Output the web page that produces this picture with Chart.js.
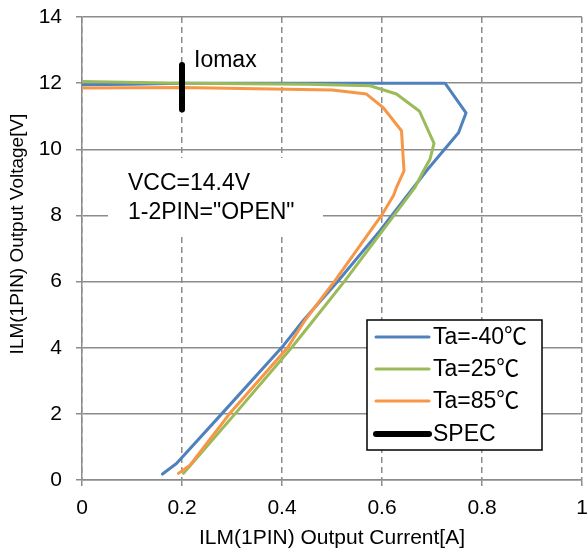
<!DOCTYPE html>
<html>
<head>
<meta charset="utf-8">
<script src="https://cdn.jsdelivr.net/npm/chart.js@4.4.0/dist/chart.umd.min.js"></script>
<style>
  html, body { margin: 0; padding: 0; background: #fff; }
</style>
</head>
<body>
<canvas id="chart" width="588" height="556"></canvas>
<script>
// Chart values
const xTickLabels = ['0', '0.2', '0.4', '0.6', '0.8', '1'];
const yTickLabels = ['0', '2', '4', '6', '8', '10', '12', '14'];

const seriesNames = ['Ta=-40℃', 'Ta=25℃', 'Ta=85℃', 'SPEC'];
const seriesColors = ['#4F81BD', '#9BBB59', '#F79646', '#000000'];

const m40Current = [0, 0.1, 0.2, 0.4, 0.6, 0.726, 0.768, 0.753, 0.689, 0.596, 0.513, 0.443, 0.403, 0.283, 0.189, 0.161];
const m40Voltage = [11.95, 11.97, 12.0, 12.0, 12.0, 12.0, 11.1, 10.5, 9.35, 7.54, 6.03, 4.83, 4.07, 2.06, 0.5, 0.18];

const t25Current = [0, 0.2, 0.45, 0.576, 0.629, 0.675, 0.704, 0.696, 0.683, 0.666, 0.609, 0.526, 0.463, 0.419, 0.306, 0.22, 0.203];
const t25Voltage = [12.05, 12.0, 11.97, 11.92, 11.67, 11.15, 10.18, 9.7, 9.35, 8.85, 7.7, 6.03, 4.83, 4.0, 2.0, 0.5, 0.2];

const t85Current = [0, 0.2, 0.5, 0.569, 0.603, 0.639, 0.644, 0.629, 0.623, 0.599, 0.506, 0.446, 0.411, 0.295, 0.216, 0.193];
const t85Voltage = [11.85, 11.87, 11.79, 11.67, 11.25, 10.56, 9.35, 8.85, 8.6, 8.0, 6.03, 4.83, 4.0, 2.0, 0.45, 0.2];

const specCurrent = [0.2, 0.2];
const specVoltage = [11.2, 12.55];

const notes = ['VCC=14.4V', '1-2PIN="OPEN"'];
const yTitle = 'ILM(1PIN) Output Voltage[V]';

const FONT = '"Liberation Sans", Arial, "Noto Sans CJK JP", sans-serif';
const GRID = '#8c8c8c';

const toPoints = (xs, ys) => xs.map((x, i) => ({ x: x, y: ys[i] }));

const makeSet = (i, xs, ys, width, order) => ({
  label: seriesNames[i],
  data: toPoints(xs, ys),
  borderColor: seriesColors[i],
  backgroundColor: seriesColors[i],
  borderWidth: width,
  borderCapStyle: 'round',
  borderJoinStyle: 'round',
  showLine: true,
  pointRadius: 0,
  tension: 0,
  order: order
});

// Text box, Iomax label, y title and the legend box drawn on the canvas
const overlayPlugin = {
  id: 'overlay',
  beforeDatasetsDraw(chart) {
    const ctx = chart.ctx;
    ctx.save();
    ctx.fillStyle = '#fff';
    ctx.fillRect(108, 158, 215, 77);
    ctx.fillStyle = '#000';
    ctx.font = '23px ' + FONT;
    ctx.textAlign = 'left';
    ctx.textBaseline = 'middle';
    ctx.fillText(notes[0], 128, 184);
    ctx.fillText(notes[1], 128, 213);
    ctx.fillText('Iomax', 194, 61);

    // y axis title, sits a little above the middle of the plot
    ctx.translate(18, 234);
    ctx.rotate(-Math.PI / 2);
    ctx.font = '19px ' + FONT;
    ctx.textAlign = 'center';
    ctx.fillText(yTitle, 0, 0);
    ctx.restore();
  },
  afterDatasetsDraw(chart) {
    const ctx = chart.ctx;
    ctx.save();
    ctx.fillStyle = '#fff';
    ctx.fillRect(367, 320, 175, 130);
    ctx.strokeStyle = '#000';
    ctx.lineWidth = 1.5;
    ctx.strokeRect(367, 320, 175, 130);
    ctx.font = '23px ' + FONT;
    ctx.textAlign = 'left';
    ctx.textBaseline = 'middle';
    const rows = [337, 369, 401, 434];
    chart.data.datasets.forEach((ds, i) => {
      ctx.strokeStyle = ds.borderColor;
      ctx.lineWidth = i === 3 ? 6 : 3;
      ctx.lineCap = 'round';
      ctx.beginPath();
      ctx.moveTo(376, rows[i]);
      ctx.lineTo(429, rows[i]);
      ctx.stroke();
      ctx.fillStyle = '#000';
      ctx.fillText(ds.label, 433, rows[i] + 1);
    });
    ctx.restore();
  }
};

Chart.defaults.font.family = FONT;
Chart.defaults.color = '#000';

new Chart(document.getElementById('chart'), {
  type: 'scatter',
  data: {
    datasets: [
      makeSet(0, m40Current, m40Voltage, 3, 4),
      makeSet(1, t25Current, t25Voltage, 3, 3),
      makeSet(2, t85Current, t85Voltage, 3, 2),
      makeSet(3, specCurrent, specVoltage, 6, 1)
    ]
  },
  options: {
    responsive: false,
    animation: false,
    layout: { padding: { top: 17, right: 6, left: 0, bottom: 0 } },
    plugins: {
      legend: { display: false },
      tooltip: { enabled: false }
    },
    scales: {
      x: {
        type: 'linear',
        min: 0,
        max: 1,
        afterFit: (scale) => {
          scale.height = 76;
          scale.paddingLeft = 0;
          scale.paddingRight = 0;
        },
        ticks: {
          stepSize: 0.2,
          padding: 10,
          maxRotation: 0,
          font: { size: 21 },
          callback: (v, i) => xTickLabels[i]
        },
        grid: { color: GRID, lineWidth: 1.5, tickLength: 6, tickBorderDash: [] },
        border: { color: GRID, width: 1.5, dash: [6, 4] },
        title: {
          display: true,
          text: 'ILM(1PIN) Output Current[A]',
          font: { size: 21 },
          padding: { top: 5, bottom: 5 }
        }
      },
      y: {
        type: 'linear',
        min: 0,
        max: 14,
        afterFit: (scale) => {
          scale.width = 82;
          scale.paddingTop = 0;
          scale.paddingBottom = 0;
        },
        ticks: {
          stepSize: 2,
          padding: 14,
          font: { size: 21 },
          callback: (v, i) => yTickLabels[i]
        },
        grid: { color: GRID, lineWidth: 1.5, tickLength: 6 },
        border: { color: GRID, width: 1.5 }
      }
    }
  },
  plugins: [overlayPlugin]
});
</script>
</body>
</html>
